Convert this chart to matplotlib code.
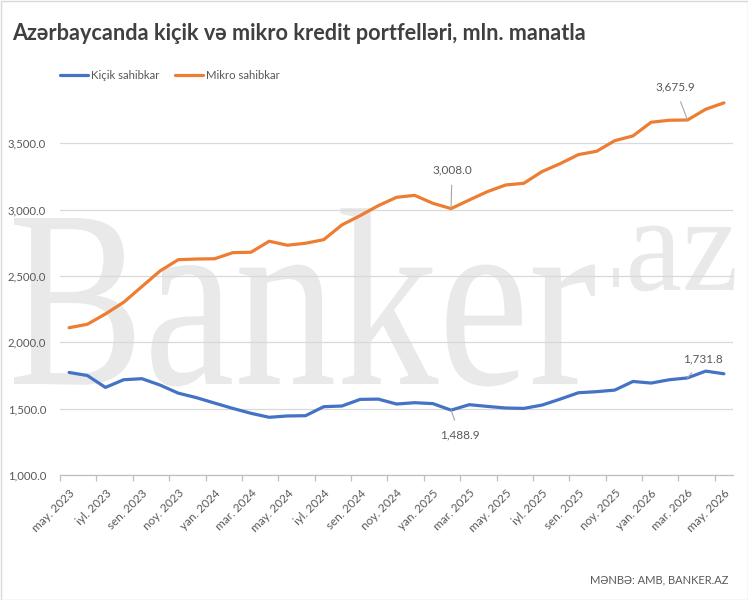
import matplotlib
matplotlib.use('Agg')
import matplotlib.pyplot as plt
import numpy as np
from matplotlib.textpath import TextPath
from matplotlib.patches import PathPatch, Rectangle
from matplotlib.font_manager import FontProperties
from matplotlib.transforms import Affine2D
from matplotlib.ticker import FuncFormatter

# monthly data, may 2023 .. may 2026
months = ['may. 2023', 'iyn. 2023', 'iyl. 2023', 'avq. 2023', 'sen. 2023', 'okt. 2023',
          'noy. 2023', 'dek. 2023', 'yan. 2024', 'fev. 2024', 'mar. 2024', 'apr. 2024',
          'may. 2024', 'iyn. 2024', 'iyl. 2024', 'avq. 2024', 'sen. 2024', 'okt. 2024',
          'noy. 2024', 'dek. 2024', 'yan. 2025', 'fev. 2025', 'mar. 2025', 'apr. 2025',
          'may. 2025', 'iyn. 2025', 'iyl. 2025', 'avq. 2025', 'sen. 2025', 'okt. 2025',
          'noy. 2025', 'dek. 2025', 'yan. 2026', 'fev. 2026', 'mar. 2026', 'apr. 2026',
          'may. 2026']

kicik = [1773, 1750, 1660, 1718, 1726, 1678, 1617, 1583, 1542, 1502, 1465, 1435,
         1445, 1447, 1515, 1520, 1570, 1572, 1535, 1545, 1538, 1488.9, 1530, 1517,
         1505, 1502, 1527, 1572, 1620, 1628, 1640, 1705, 1693, 1718, 1731.8, 1783, 1763]

mikro = [2110, 2136, 2214, 2302, 2420, 2538, 2623, 2628, 2630, 2676, 2679, 2762,
         2732, 2747, 2774, 2885, 2955, 3030, 3093, 3108, 3048, 3008.0, 3073, 3136,
         3186, 3199, 3287, 3347, 3415, 3440, 3520, 3556, 3659, 3674, 3675.9, 3757, 3805]

yticks = [1000, 1500, 2000, 2500, 3000, 3500]

BLUE = '#4472C4'
ORANGE = '#ED7D31'
TXT = '#595959'

plt.rcParams['font.family'] = ['Lato', 'DejaVu Sans']

W, H = 748, 600
fig = plt.figure(figsize=(W / 100, H / 100), dpi=100)
fig.patch.set_facecolor('white')
ax = fig.add_axes([60 / W, 1 - 475 / H, (733 - 60) / W, (475 - 77) / H])
ax.patch.set_visible(False)

# watermark "Banker.az" drawn in display pixels
wm_color = '#e9e9e9'
serif = FontProperties(family='Liberation Serif')
tp = TextPath((0, 0), 'Banker', size=1, prop=serif)
bb = tp.get_extents()
capb = TextPath((0, 0), 'B', size=1, prop=serif).get_extents()
sx = (595 - 14) / bb.width
sy = 166 / capb.ymax
tr = Affine2D().translate(-bb.xmin, 0).scale(sx, sy).translate(14, H - 384)
fig.add_artist(PathPatch(tp, transform=tr, color=wm_color, lw=0, zorder=-5))
tp2 = TextPath((0, 0), 'az', size=1, prop=serif)
bb2 = tp2.get_extents()
xh = TextPath((0, 0), 'x', size=1, prop=serif).get_extents().ymax
tr2 = Affine2D().translate(-bb2.xmin, 0).scale(105 / bb2.width, 63 / xh).translate(630, H - 290)
fig.add_artist(PathPatch(tp2, transform=tr2, color=wm_color, lw=0, zorder=-5))
fig.add_artist(Rectangle((613, H - 287), 6, 19, transform=Affine2D(), color=wm_color, lw=0, zorder=-5))

x = np.arange(len(months))
ax.plot(x, kicik, color=BLUE, lw=2.3, solid_capstyle='round', label='Kiçik sahibkar', zorder=3)
ax.plot(x, mikro, color=ORANGE, lw=2.3, solid_capstyle='round', label='Mikro sahibkar', zorder=3)

ax.set_xlim(-0.5, len(months) - 0.5)
ax.set_ylim(1000, 4000)
ax.set_yticks(yticks)
ax.yaxis.set_major_formatter(FuncFormatter(lambda v, p: f'{v:,.1f}'))
ax.tick_params(axis='y', length=0, pad=10, labelsize=8.2, labelcolor=TXT)
ax.grid(axis='y', color='#d9d9d9', lw=0.9, zorder=1)

ax.set_xticks(x[::2])
ax.set_xticklabels(months[::2], rotation=45, ha='right', rotation_mode='anchor')
ax.set_xticks(np.arange(-0.5, len(months) - 1, 2), minor=True)
ax.tick_params(axis='x', which='major', length=0, pad=9, labelsize=8.5, labelcolor=TXT)
ax.tick_params(axis='x', which='minor', length=4, color='#bfbfbf', width=0.9)

for s in ['top', 'right', 'left']:
    ax.spines[s].set_visible(False)
ax.spines['bottom'].set_color('#bfbfbf')
ax.spines['bottom'].set_linewidth(0.9)

# data labels with leader lines
def note(i, vals, tx, ty):
    ax.annotate(f'{vals[i]:,.1f}', xy=(i, vals[i]), xytext=(tx, ty), textcoords='figure pixels',
                ha='center', va='center', fontsize=8.5, color=TXT,
                arrowprops=dict(arrowstyle='-', color='#a6a6a6', lw=0.8, shrinkA=5, shrinkB=0))

note(21, mikro, 452, H - 170)
note(34, mikro, 675, H - 87)
note(21, kicik, 460, H - 435)
note(34, kicik, 703, H - 359)

fig.legend(loc='upper left', bbox_to_anchor=(50 / W, 1 - 60 / H), ncol=2, frameon=False,
           fontsize=8.2, labelcolor=TXT, handlelength=2.4, handletextpad=0.3, columnspacing=1.4)

fig.text(12 / W, 1 - 34 / H, 'Azərbaycanda kiçik və mikro kredit portfelləri, mln. manatla',
         fontsize=15.6, fontweight='bold', color='#404040', va='center', ha='left')
fig.text(728 / W, 1 - 580 / H, 'MƏNBƏ: AMB, BANKER.AZ', fontsize=8, color=TXT, ha='right', va='center')

fig.add_artist(Rectangle((0.5, 0.5), W - 1, H - 1, transform=Affine2D(), fill=False,
                         edgecolor='#d9d9d9', lw=1))

fig.savefig('out.png', dpi=100)
